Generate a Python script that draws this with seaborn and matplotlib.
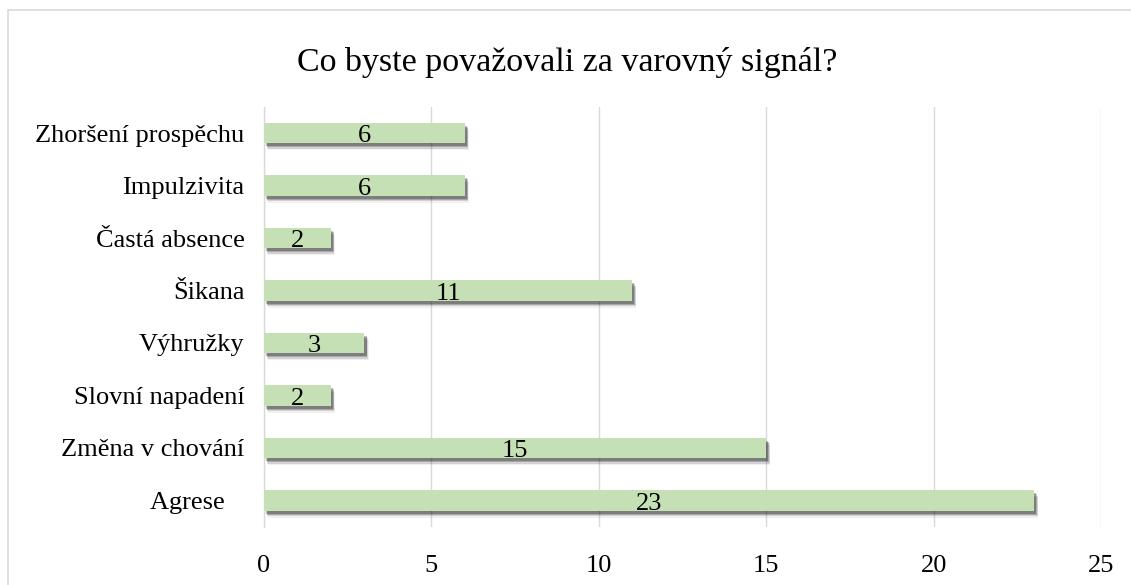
import matplotlib
matplotlib.use("Agg")
import matplotlib.pyplot as plt
import matplotlib.patheffects as pe
from matplotlib.patches import Rectangle
import seaborn as sns
import pandas as pd

categories = ["Zhoršení prospěchu", "Impulzivita", "Častá absence", "Šikana",
              "Výhružky", "Slovní napadení", "Změna v chování", "Agrese   "]
values = [6, 6, 2, 11, 3, 2, 15, 23]
x_ticks = [0, 5, 10, 15, 20, 25]
title = "Co byste považovali za varovný signál?"

df = pd.DataFrame({"category": categories, "value": values})

sns.set_theme(style="white")
plt.rcParams["font.family"] = ["Liberation Serif", "DejaVu Serif"]

fig = plt.figure(figsize=(11.31, 5.85), dpi=100)
ax = fig.add_axes([0.2334, 0.0996, 0.7401, 0.7179])

sns.barplot(data=df, x="value", y="category", orient="h", color="#C5E0B4",
            saturation=1, width=0.39, ax=ax, zorder=3)

shadow = [
    pe.SimplePatchShadow(offset=(3, -5), shadow_rgbFace="#000000", alpha=0.06),
    pe.SimplePatchShadow(offset=(2.5, -4), shadow_rgbFace="#000000", alpha=0.12),
    pe.SimplePatchShadow(offset=(2, -3), shadow_rgbFace="#000000", alpha=0.2),
    pe.SimplePatchShadow(offset=(1.5, -2), shadow_rgbFace="#000000", alpha=0.25),
    pe.Normal(),
]
for p in ax.patches:
    p.set_path_effects(shadow)
    p.set_edgecolor("none")

for cont in ax.containers:
    labels = ax.bar_label(cont, label_type="center", fontsize=19, color="black")
    for t in labels:
        t.xyann = (0, -2.5)

ax.set_xlim(0, 25)
ax.set_xticks(x_ticks)
ax.set_xticklabels([str(t) for t in x_ticks])
ax.set_ylim(len(categories) - 0.5, -0.5)
ax.set_xlabel("")
ax.set_ylabel("")
ax.xaxis.grid(True, color="#D9D9D9", linewidth=1, zorder=0)
ax.yaxis.grid(False)
for s in ["top", "right", "bottom"]:
    ax.spines[s].set_visible(False)
ax.spines["left"].set_color("#D9D9D9")
ax.spines["left"].set_linewidth(1)
ax.tick_params(axis="both", length=0, labelsize=19, colors="black")
ax.tick_params(axis="x", pad=20)
ax.tick_params(axis="y", pad=14)

fig.text(0.5013, 0.894, title, ha="center", va="center", fontsize=24.5, color="black")

# chart border
fig.patches.append(Rectangle((8 / 1131, -0.01), 1.05, 1 - 10 / 585 + 0.01,
                             transform=fig.transFigure, fill=False,
                             edgecolor="#D9D9D9", linewidth=1.2))

fig.savefig("out.png", dpi=100)
